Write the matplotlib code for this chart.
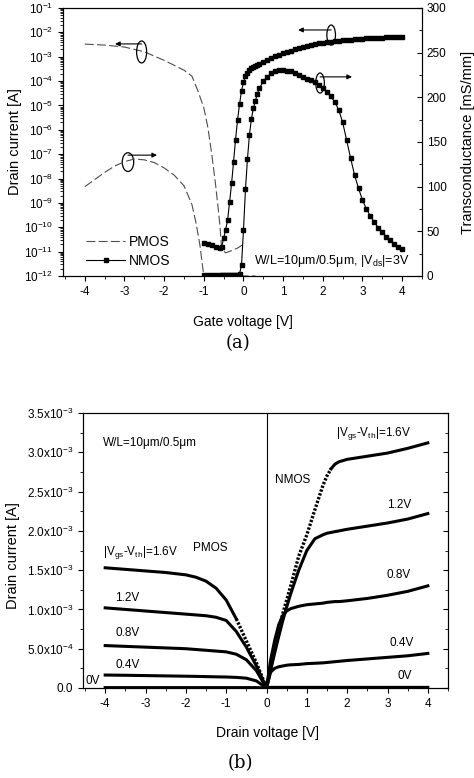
import numpy as np
import matplotlib
matplotlib.use("Agg")
import matplotlib.pyplot as plt
from matplotlib.patches import Ellipse
from matplotlib.ticker import LogLocator, MultipleLocator, FixedLocator

plt.rcParams['font.family'] = ['Liberation Sans', 'DejaVu Sans']
plt.rcParams['mathtext.fontset'] = 'custom'
plt.rcParams['mathtext.rm'] = 'Liberation Sans'
plt.rcParams['mathtext.default'] = 'regular'
plt.rcParams['axes.unicode_minus'] = False

# ---- (a) transfer characteristics ----
pmos_vg = [-4.0, -3.5, -3.0, -2.5, -2.0, -1.5, -1.3, -1.15, -1.0, -0.9, -0.8, -0.7,
           -0.6, -0.55, -0.45, -0.3, -0.15, 0.0]
pmos_id = [3.3e-3, 3.0e-3, 2.5e-3, 1.6e-3, 7.1e-4, 2.8e-4, 1.6e-4, 4.0e-5, 8.0e-6, 1.3e-6,
           1.0e-7, 5.0e-9, 1.5e-10, 1.3e-11, 8.9e-12, 1.1e-11, 1.4e-11, 2.0e-11]

pmos_gm_vg = [-4.0, -3.75, -3.5, -3.25, -3.0, -2.75, -2.5, -2.25, -2.0, -1.75, -1.5,
              -1.3, -1.2, -1.1, -1.0, -0.5, 0.0, 0.3]
pmos_gm = [100, 108, 116, 123, 128, 131, 130, 127, 121, 113, 101,
           80, 60, 35, 0, 0, 0, 0]

nmos_vg = [-1.0, -0.9, -0.8, -0.7, -0.6, -0.55, -0.5, -0.45, -0.4, -0.35, -0.3, -0.25,
           -0.2, -0.15, -0.1, -0.05, 0.0, 0.05, 0.1, 0.15, 0.2, 0.25, 0.3, 0.35, 0.4,
           0.5, 0.6, 0.7, 0.8, 0.9, 1.0, 1.1, 1.2, 1.3, 1.4, 1.5, 1.6, 1.7, 1.8, 1.9,
           2.0, 2.1, 2.2, 2.3, 2.4, 2.5, 2.6, 2.7, 2.8, 2.9, 3.0, 3.1, 3.2, 3.3, 3.4,
           3.5, 3.6, 3.7, 3.8, 3.9, 4.0]
nmos_id = [2.2e-11, 2.0e-11, 1.8e-11, 1.6e-11, 1.4e-11, 1.6e-11, 3.5e-11, 7.9e-11,
           2.0e-10, 1.1e-9, 6.3e-9, 5.0e-8, 4.0e-7, 2.5e-6, 1.1e-5, 4.0e-5, 8.9e-5,
           1.6e-4, 2.2e-4, 2.8e-4, 3.4e-4, 3.8e-4, 4.3e-4, 4.7e-4, 5.1e-4, 6.3e-4,
           7.6e-4, 8.9e-4, 1.05e-3, 1.2e-3, 1.38e-3, 1.58e-3, 1.78e-3, 2.0e-3, 2.3e-3,
           2.5e-3, 2.75e-3, 3.0e-3, 3.2e-3, 3.5e-3, 3.7e-3, 3.9e-3, 4.1e-3, 4.3e-3,
           4.5e-3, 4.7e-3, 4.9e-3, 5.0e-3, 5.25e-3, 5.4e-3, 5.5e-3, 5.6e-3, 5.75e-3,
           5.9e-3, 6.0e-3, 6.1e-3, 6.2e-3, 6.25e-3, 6.3e-3, 6.4e-3, 6.5e-3]
nmos_gm = [1.5, 1.5, 1.5, 1.5, 1.5, 1.5, 1.5, 1.5, 1.5, 1.5, 1.5, 1.5, 1.5, 1.5, 2.5,
           12, 52, 97, 131, 158, 176, 188, 196, 204, 210, 218, 223, 227, 230, 231, 231,
           230, 229, 227, 225, 223, 221, 219, 217, 214, 211, 206, 201, 195, 186, 172,
           152, 132, 113, 98, 85, 75, 67, 60, 54, 49, 44, 40, 36, 33, 30]

# ---- (b) output characteristics, currents in A ----
pmos_vd = [-4.0, -3.5, -3.0, -2.5, -2.0, -1.75, -1.5, -1.25, -1.0, -0.75, -0.5, -0.25, 0.0]
pmos_16 = [1.53e-3, 1.51e-3, 1.49e-3, 1.47e-3, 1.44e-3, 1.41e-3, 1.36e-3, 1.27e-3,
           1.12e-3, 0.88e-3, 0.60e-3, 0.32e-3, 0.0]
pmos_12 = [1.02e-3, 1.00e-3, 0.98e-3, 0.96e-3, 0.94e-3, 0.93e-3, 0.92e-3, 0.90e-3,
           0.86e-3, 0.72e-3, 0.52e-3, 0.28e-3, 0.0]
pmos_08 = [0.54e-3, 0.53e-3, 0.52e-3, 0.51e-3, 0.50e-3, 0.49e-3, 0.48e-3, 0.47e-3,
           0.46e-3, 0.43e-3, 0.36e-3, 0.22e-3, 0.0]
pmos_04 = [0.165e-3, 0.162e-3, 0.158e-3, 0.154e-3, 0.150e-3, 0.148e-3, 0.145e-3,
           0.142e-3, 0.14e-3, 0.135e-3, 0.125e-3, 0.09e-3, 0.0]
pmos_00 = [0.005e-3] * 12 + [0.0]

nmos_vd = [0.0, 0.1, 0.2, 0.3, 0.4, 0.5, 0.6, 0.8, 1.0, 1.2, 1.4, 1.5, 1.6, 1.7, 1.8,
           2.0, 2.5, 3.0, 3.5, 4.0]
nmos_16 = [0.0, 0.25e-3, 0.5e-3, 0.73e-3, 0.94e-3, 1.12e-3, 1.3e-3, 1.68e-3, 1.95e-3,
           2.27e-3, 2.58e-3, 2.70e-3, 2.79e-3, 2.85e-3, 2.88e-3, 2.91e-3, 2.95e-3,
           2.99e-3, 3.05e-3, 3.12e-3]
nmos_12 = [0.0, 0.22e-3, 0.44e-3, 0.65e-3, 0.85e-3, 1.03e-3, 1.2e-3, 1.5e-3, 1.75e-3,
           1.9e-3, 1.95e-3, 1.97e-3, 1.98e-3, 1.99e-3, 2.0e-3, 2.02e-3, 2.06e-3,
           2.1e-3, 2.15e-3, 2.22e-3]
nmos_08 = [0.0, 0.35e-3, 0.6e-3, 0.8e-3, 0.92e-3, 0.98e-3, 1.01e-3, 1.04e-3, 1.06e-3,
           1.07e-3, 1.08e-3, 1.09e-3, 1.095e-3, 1.10e-3, 1.10e-3, 1.11e-3, 1.14e-3,
           1.18e-3, 1.23e-3, 1.30e-3]
nmos_04 = [0.0, 0.2e-3, 0.25e-3, 0.27e-3, 0.28e-3, 0.29e-3, 0.295e-3, 0.30e-3,
           0.31e-3, 0.315e-3, 0.32e-3, 0.325e-3, 0.33e-3, 0.335e-3, 0.34e-3, 0.35e-3,
           0.37e-3, 0.39e-3, 0.41e-3, 0.44e-3]
nmos_00 = [0.0] + [0.008e-3] * 19

b_yticks = [0.0, 0.5e-3, 1.0e-3, 1.5e-3, 2.0e-3, 2.5e-3, 3.0e-3, 3.5e-3]
b_yticklabels = ["0.0", "5.0x10$^{-4}$", "1.0x10$^{-3}$", "1.5x10$^{-3}$",
                 "2.0x10$^{-3}$", "2.5x10$^{-3}$", "3.0x10$^{-3}$", "3.5x10$^{-3}$"]

fig = plt.figure(figsize=(4.74, 7.78), dpi=100)

# top panel
ax1 = fig.add_axes([63 / 474, 1 - 276 / 778, 359 / 474, 268 / 778])
ax1.set_yscale('log')
ax1.plot(pmos_vg, pmos_id, color='0.3', lw=0.8, dashes=(8, 3), label='PMOS')
ax1.plot(nmos_vg, nmos_id, color='k', lw=0.8, marker='s', ms=3, label='NMOS')
ax1.set_xlim(-4.55, 4.5)
ax1.set_ylim(1e-12, 1e-1)
ax1.yaxis.set_major_locator(LogLocator(base=10, numticks=20))
ax1.yaxis.set_minor_locator(LogLocator(base=10, subs=np.arange(2, 10), numticks=20))
ax1.xaxis.set_major_locator(MultipleLocator(1))
ax1.xaxis.set_minor_locator(MultipleLocator(0.5))
ax1.tick_params(which='both', direction='out', top=False, right=False, labelsize=8.5)
ax1.tick_params(which='minor', length=2)
ax1.set_xlabel("Gate voltage [V]", fontsize=10)
ax1.set_ylabel("Drain current [A]", fontsize=10.5)
ax1.xaxis.set_label_coords(0.5, -0.145)
ax1.yaxis.set_label_coords(-0.115, 0.5)
ax1.legend(loc='lower left', bbox_to_anchor=(0.03, -0.015), frameon=False, fontsize=10,
           handlelength=2.8, handletextpad=0.3, labelspacing=0.35)

ax1r = ax1.twinx()
ax1r.plot(pmos_gm_vg, pmos_gm, color='0.3', lw=0.8, dashes=(8, 3))
ax1r.plot(nmos_vg, nmos_gm, color='k', lw=0.8, marker='s', ms=3)
ax1r.set_ylim(0, 300)
ax1r.yaxis.set_major_locator(MultipleLocator(50))
ax1r.yaxis.set_minor_locator(MultipleLocator(25))
ax1r.tick_params(which='both', direction='in', labelsize=8.5)
ax1r.tick_params(which='minor', length=2)
ax1r.set_ylabel("Transconductance [mS/mm]", fontsize=10.5)
ax1r.yaxis.set_label_coords(1.11, 0.5)

ax1r.text(0.965, 0.056, "W/L=10\u03bcm/0.5\u03bcm, |V$_{ds}$|=3V", transform=ax1.transAxes,
          ha='right', va='center', fontsize=9)

# ellipses with arrows marking which axis each curve belongs to
marks = [((0.219, 0.836), (0.219, 0.866), (0.145, 0.866), 0.028, 0.082),
         ((0.181, 0.425), (0.181, 0.451), (0.262, 0.451), 0.032, 0.07),
         ((0.747, 0.899), (0.747, 0.918), (0.655, 0.918), 0.024, 0.075),
         ((0.716, 0.720), (0.716, 0.743), (0.805, 0.743), 0.024, 0.075)]
for center, start, tip, w, h in marks:
    ax1r.add_patch(Ellipse(center, w, h, transform=ax1.transAxes, fill=False, lw=0.9,
                           ec='k'))
    ax1r.annotate('', xy=tip, xytext=start, xycoords=ax1.transAxes,
                  textcoords=ax1.transAxes,
                  arrowprops=dict(arrowstyle='-|>', lw=0.8, color='k', mutation_scale=7,
                                  shrinkA=0, shrinkB=0))

fig.text(238 / 474, 1 - 343 / 778, "(a)", ha='center', va='center', fontsize=13,
         family='DejaVu Serif')

# bottom panel
ax2 = fig.add_axes([83 / 474, 1 - 688 / 778, 365 / 474, 275 / 778])
for curve in [pmos_12, pmos_08, pmos_04, pmos_00]:
    ax2.plot(pmos_vd, curve, color='k', lw=2.2)
for curve in [nmos_12, nmos_08, nmos_04, nmos_00]:
    ax2.plot(nmos_vd, curve, color='k', lw=2.2)

# the |Vgs-Vth|=1.6V curves look dotted where they run steeply to the origin
p16 = np.array(pmos_16)
pv = np.array(pmos_vd)
ax2.plot(pv[pv <= -0.75], p16[pv <= -0.75], color='k', lw=2.2)
ax2.plot(pv[pv >= -0.75], p16[pv >= -0.75], color='k', lw=2.4, ls=(0, (0.7, 0.5)))
n16 = np.array(nmos_16)
nv = np.array(nmos_vd)
ax2.plot(nv[nv >= 1.6], n16[nv >= 1.6], color='k', lw=2.2)
ax2.plot(nv[nv <= 1.6], n16[nv <= 1.6], color='k', lw=2.4, ls=(0, (0.7, 0.5)))

ax2.axvline(0, color='k', lw=0.8)
ax2.set_xlim(-4.55, 4.5)
ax2.set_ylim(0, 3.5e-3)
ax2.yaxis.set_major_locator(FixedLocator(b_yticks))
ax2.set_yticklabels(b_yticklabels)
ax2.yaxis.set_minor_locator(MultipleLocator(0.25e-3))
ax2.xaxis.set_major_locator(MultipleLocator(1))
ax2.xaxis.set_minor_locator(MultipleLocator(0.5))
ax2.tick_params(which='both', direction='out', top=False, right=False, labelsize=8.5)
ax2.tick_params(which='minor', length=2)
ax2.set_xlabel("Drain voltage [V]", fontsize=10)
ax2.set_ylabel("Drain current [A]", fontsize=10.5)
ax2.xaxis.set_label_coords(0.505, -0.14)
ax2.yaxis.set_label_coords(-0.172, 0.48)

ax2r = ax2.twinx()
ax2r.set_ylim(0, 3.5e-3)
ax2r.yaxis.set_major_locator(FixedLocator(b_yticks))
ax2r.yaxis.set_minor_locator(MultipleLocator(0.25e-3))
ax2r.tick_params(which='both', direction='in', labelright=False)
ax2r.tick_params(which='minor', length=2)

fs = 8.5
ax2.text(-4.05, 3.12e-3, "W/L=10\u03bcm/0.5\u03bcm", fontsize=fs, va='center')
ax2.text(-4.05, 1.72e-3, "|V$_{gs}$-V$_{th}$|=1.6V", fontsize=fs, va='center')
ax2.text(-1.82, 1.78e-3, "PMOS", fontsize=fs, va='center')
ax2.text(-3.75, 1.15e-3, "1.2V", fontsize=fs, va='center')
ax2.text(-3.75, 0.70e-3, "0.8V", fontsize=fs, va='center')
ax2.text(-3.75, 0.29e-3, "0.4V", fontsize=fs, va='center')
ax2.text(-4.48, 0.09e-3, "0V", fontsize=fs, va='center')
ax2.text(1.73, 3.24e-3, "|V$_{gs}$-V$_{th}$|=1.6V", fontsize=fs, va='center')
ax2.text(0.21, 2.65e-3, "NMOS", fontsize=fs, va='center')
ax2.text(3.0, 2.33e-3, "1.2V", fontsize=fs, va='center')
ax2.text(2.97, 1.44e-3, "0.8V", fontsize=fs, va='center')
ax2.text(3.05, 0.57e-3, "0.4V", fontsize=fs, va='center')
ax2.text(3.24, 0.15e-3, "0V", fontsize=fs, va='center')

fig.text(240 / 474, 1 - 763 / 778, "(b)", ha='center', va='center', fontsize=13,
         family='DejaVu Serif')

fig.savefig("out.png", dpi=100)
